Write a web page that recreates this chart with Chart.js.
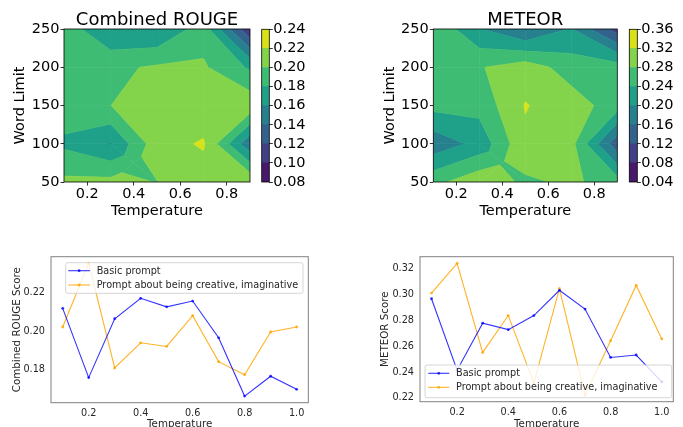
<!DOCTYPE html>
<html>
<head>
<meta charset="utf-8">
<script src="https://cdn.jsdelivr.net/npm/chart.js@4.4.0/dist/chart.umd.min.js"></script>
<style>
html, body { margin: 0; padding: 0; background: #fff; }
#wrap { position: relative; width: 683px; height: 427px; overflow: hidden; }
canvas { position: absolute; }
</style>
</head>
<body>
<div id="wrap">
  <canvas id="rougeMap" style="left:0px;top:0px" width="262" height="225"></canvas>
  <canvas id="rougeBar" style="left:255px;top:0px" width="60" height="225"></canvas>
  <canvas id="meteorMap" style="left:370px;top:0px" width="260" height="225"></canvas>
  <canvas id="meteorBar" style="left:625px;top:0px" width="58" height="225"></canvas>
  <canvas id="rougeLine" style="left:0px;top:240px" width="320" height="187"></canvas>
  <canvas id="meteorLine" style="left:340px;top:240px" width="343" height="187"></canvas>
</div>
<script>
Chart.defaults.font.family = "'DejaVu Sans', sans-serif";
Chart.defaults.animation = false;

// --- contour grids (rows = word limit, columns = temperature) ---
const temps = [0.1, 0.3, 0.5, 0.7, 0.9];
const wordLimits = [50, 100, 150, 200, 250];
const rougeGrid = [
  [0.2045, 0.2057, 0.1995, 0.2100, 0.2180],
  [0.1758, 0.1590, 0.2120, 0.2222, 0.1440],
  [0.1926, 0.1998, 0.2130, 0.2070, 0.2140],
  [0.1920, 0.1958, 0.2026, 0.2027, 0.1770],
  [0.1918, 0.1607, 0.1590, 0.1910, 0.1020]
];
const meteorGrid = [
  [0.2680, 0.3087, 0.2718, 0.2882, 0.2580],
  [0.1730, 0.2130, 0.3130, 0.2930, 0.1320],
  [0.2525, 0.2540, 0.3220, 0.3000, 0.2590],
  [0.2600, 0.2770, 0.3020, 0.2610, 0.2600],
  [0.2750, 0.2030, 0.1550, 0.2030, 0.1000]
];
const rougeLevels = [0.08, 0.10, 0.12, 0.14, 0.16, 0.18, 0.20, 0.22, 0.24];
const meteorLevels = [0.04, 0.08, 0.12, 0.16, 0.20, 0.24, 0.28, 0.32, 0.36];
const bandColors = ['#48186a', '#424086', '#33628d', '#27808e', '#1fa088', '#3fbc73', '#84d44b', '#d8e219'];
const mapTempTicks = [0.2, 0.4, 0.6, 0.8];
const wordTicks = [50, 100, 150, 200, 250];

// --- line charts ---
const lineTemps = [0.1, 0.2, 0.3, 0.4, 0.5, 0.6, 0.7, 0.8, 0.9, 1.0];
const rougeBasic = [0.2118, 0.1758, 0.2064, 0.2170, 0.2126, 0.2156, 0.1965, 0.1662, 0.1765, 0.1697];
const rougeCreative = [0.2021, 0.2352, 0.1808, 0.1939, 0.1920, 0.2080, 0.1841, 0.1773, 0.1995, 0.2021];
const meteorBasic = [0.2967, 0.2415, 0.2778, 0.2728, 0.2837, 0.3032, 0.2887, 0.2513, 0.2532, 0.2324];
const meteorCreative = [0.3011, 0.3241, 0.2552, 0.2837, 0.2315, 0.3045, 0.2222, 0.2643, 0.3070, 0.2656];
const lineTempTicks = [0.2, 0.4, 0.6, 0.8, 1.0];
const rougeScoreTicks = [0.18, 0.20, 0.22];
const meteorScoreTicks = [0.22, 0.24, 0.26, 0.28, 0.30, 0.32];
const seriesNames = ['Basic prompt', 'Prompt about being creative, imaginative'];
const seriesColors = ['rgba(0,0,255,0.8)', 'rgba(255,165,0,0.85)'];

// helpers for fixed axis sizes / explicit ticks
function fixWidth(w) { return s => { s.width = w; s.paddingTop = 0; s.paddingBottom = 0; }; }
function fixHeight(h) { return s => { s.height = h; s.paddingLeft = 0; s.paddingRight = 0; }; }
function setTicks(vals) { return s => { s.ticks = vals.map(v => ({ value: v })); }; }

// clip polygon (points [x, y, value]) to value >= L or value <= L
function clipPoly(poly, L, above) {
  const out = [];
  const inside = p => above ? p[2] >= L : p[2] <= L;
  for (let k = 0; k < poly.length; k++) {
    const a = poly[k], b = poly[(k + 1) % poly.length];
    const ia = inside(a), ib = inside(b);
    if (ia) out.push(a);
    if (ia !== ib) {
      const t = (L - a[2]) / (b[2] - a[2]);
      out.push([a[0] + t * (b[0] - a[0]), a[1] + t * (b[1] - a[1]), L]);
    }
  }
  return out;
}

const contourPlugin = {
  id: 'contour',
  beforeDatasetsDraw(chart, args, o) {
    const { ctx, chartArea: ca, scales: { x, y } } = chart;
    ctx.save();
    ctx.beginPath();
    ctx.rect(ca.left, ca.top, ca.right - ca.left, ca.bottom - ca.top);
    ctx.clip();
    ctx.lineJoin = 'round';
    for (let j = 0; j < o.ys.length - 1; j++) {
      for (let i = 0; i < o.xs.length - 1; i++) {
        const c = [
          [o.xs[i], o.ys[j], o.z[j][i]],
          [o.xs[i + 1], o.ys[j], o.z[j][i + 1]],
          [o.xs[i + 1], o.ys[j + 1], o.z[j + 1][i + 1]],
          [o.xs[i], o.ys[j + 1], o.z[j + 1][i]]
        ];
        const saddle = o.levels.some(L => {
          const s = c.map(p => p[2] >= L);
          return s[0] === s[2] && s[1] === s[3] && s[0] !== s[1];
        });
        let polys = [c];
        if (saddle) {
          const mid = [(c[0][0] + c[1][0]) / 2, (c[0][1] + c[3][1]) / 2,
            (c[0][2] + c[1][2] + c[2][2] + c[3][2]) / 4];
          polys = [0, 1, 2, 3].map(k => [c[k], c[(k + 1) % 4], mid]);
        }
        for (let b = 0; b < o.levels.length - 1; b++) {
          for (const poly of polys) {
            let p = clipPoly(poly, o.levels[b], true);
            if (p.length < 3) continue;
            p = clipPoly(p, o.levels[b + 1], false);
            if (p.length < 3) continue;
            ctx.beginPath();
            p.forEach((q, k) => {
              const px = x.getPixelForValue(q[0]), py = y.getPixelForValue(q[1]);
              if (k === 0) ctx.moveTo(px, py); else ctx.lineTo(px, py);
            });
            ctx.closePath();
            ctx.fillStyle = o.colors[b];
            ctx.strokeStyle = o.colors[b];
            ctx.lineWidth = 0.6;
            ctx.fill();
            ctx.stroke();
          }
        }
      }
    }
    ctx.restore();
  }
};

const framePlugin = {
  id: 'frame',
  afterDatasetsDraw(chart, args, o) {
    const { ctx, chartArea: ca } = chart;
    ctx.save();
    ctx.strokeStyle = o.color;
    ctx.lineWidth = o.width;
    ctx.strokeRect(ca.left, ca.top, ca.right - ca.left, ca.bottom - ca.top);
    ctx.restore();
  }
};

const headingPlugin = {
  id: 'heading',
  afterDraw(chart, args, o) {
    const { ctx, chartArea: ca } = chart;
    ctx.save();
    ctx.font = o.size + "px 'DejaVu Sans', sans-serif";
    ctx.fillStyle = '#000';
    ctx.textAlign = 'center';
    ctx.textBaseline = 'middle';
    ctx.fillText(o.text, (ca.left + ca.right) / 2, o.y);
    ctx.restore();
  }
};

const boxLegend = {
  id: 'boxLegend',
  afterDatasetsDraw(chart, args, o) {
    const { ctx, chartArea: ca } = chart;
    const x0 = ca.left + o.left, y0 = ca.top + o.top;
    ctx.save();
    ctx.fillStyle = 'rgba(255,255,255,0.8)';
    ctx.strokeStyle = '#cccccc';
    ctx.lineWidth = 0.8;
    ctx.beginPath();
    ctx.roundRect(x0, y0, o.width, o.height, 2);
    ctx.fill();
    ctx.stroke();
    ctx.font = "9.7px 'DejaVu Sans', sans-serif";
    ctx.textBaseline = 'middle';
    chart.data.datasets.forEach((ds, k) => {
      const ry = y0 + o.rows[k];
      ctx.strokeStyle = ds.borderColor;
      ctx.lineWidth = ds.borderWidth;
      ctx.beginPath();
      ctx.moveTo(x0 + o.sample[0], ry);
      ctx.lineTo(x0 + o.sample[1], ry);
      ctx.stroke();
      ctx.fillStyle = ds.borderColor;
      ctx.beginPath();
      ctx.arc(x0 + (o.sample[0] + o.sample[1]) / 2, ry, ds.pointRadius, 0, Math.PI * 2);
      ctx.fill();
      ctx.fillStyle = '#262626';
      ctx.fillText(ds.label, x0 + o.text, ry + 0.5);
    });
    ctx.restore();
  }
};

function contourChart(id, grid, levels, title, yWidth, padRight) {
  const pts = [];
  wordLimits.forEach(w => temps.forEach(t => pts.push({ x: t, y: w })));
  const tickGrid = { display: true, drawOnChartArea: false, drawTicks: true, tickLength: 3.5, color: '#000', lineWidth: 0.8 };
  return new Chart(document.getElementById(id), {
    type: 'scatter',
    data: { datasets: [{ data: pts, pointRadius: 0, pointHoverRadius: 0 }] },
    options: {
      responsive: false, animation: false, events: [],
      layout: { padding: { left: 0, top: 29, right: padRight, bottom: 0 } },
      plugins: {
        legend: { display: false }, tooltip: { enabled: false },
        contour: { xs: temps, ys: wordLimits, z: grid, levels: levels, colors: bandColors },
        frame: { color: '#000', width: 0.8 },
        heading: { text: title, y: 20.5, size: 18 }
      },
      scales: {
        x: {
          type: 'linear', min: temps[0], max: temps[temps.length - 1],
          afterBuildTicks: setTicks(mapTempTicks), afterFit: fixHeight(43),
          grid: tickGrid, border: { display: false },
          ticks: { color: '#000', font: { size: 14.5 }, padding: 0.5, maxRotation: 0, autoSkip: false, callback: v => v.toFixed(1) },
          title: { display: true, text: 'Temperature', color: '#000', font: { size: 14.5, lineHeight: 1.2 }, padding: { top: 0, bottom: 5.5 } }
        },
        y: {
          type: 'linear', min: wordLimits[0], max: wordLimits[wordLimits.length - 1],
          afterBuildTicks: setTicks(wordTicks), afterFit: fixWidth(yWidth),
          grid: tickGrid, border: { display: false },
          ticks: { color: '#000', font: { size: 14.5 }, padding: 1, autoSkip: false, callback: v => String(v) },
          title: { display: true, text: 'Word Limit', color: '#000', font: { size: 14.5, lineHeight: 1.2 }, padding: { top: 12, bottom: 0 } }
        }
      }
    },
    plugins: [contourPlugin, framePlugin, headingPlugin]
  });
}

function colorbarChart(id, levels, padLeft) {
  const bands = bandColors.map((c, k) => ({
    data: [[levels[k], levels[k + 1]]], backgroundColor: c, borderWidth: 0,
    barPercentage: 1, categoryPercentage: 1
  }));
  return new Chart(document.getElementById(id), {
    type: 'bar',
    data: { labels: [''], datasets: bands },
    options: {
      responsive: false, animation: false, events: [],
      layout: { padding: { left: padLeft, top: 29.3, right: 0, bottom: 43 } },
      plugins: { legend: { display: false }, tooltip: { enabled: false }, frame: { color: '#000', width: 0.8 } },
      scales: {
        x: { display: false, stacked: true },
        y: {
          position: 'right', min: levels[0], max: levels[levels.length - 1],
          afterBuildTicks: setTicks(levels), afterFit: fixWidth(45.7),
          grid: { display: true, drawOnChartArea: false, drawTicks: true, tickLength: 3.5, color: '#000', lineWidth: 0.8 },
          border: { display: false },
          ticks: { color: '#000', font: { size: 14.5 }, padding: 0.5, autoSkip: false, callback: v => v.toFixed(2) }
        }
      }
    },
    plugins: [framePlugin]
  });
}

function lineChart(id, basic, creative, scoreTicks, yLabel, yWidth, yTitlePad, padRight, xHeight, legendBox) {
  const all = basic.concat(creative);
  const lo = Math.min(...all), hi = Math.max(...all), m = (hi - lo) * 0.05;
  const t0 = lineTemps[0], t1 = lineTemps[lineTemps.length - 1], tm = (t1 - t0) * 0.05;
  const mk = (vals, k) => ({
    label: seriesNames[k], data: lineTemps.map((t, i) => ({ x: t, y: vals[i] })),
    borderColor: seriesColors[k], backgroundColor: seriesColors[k],
    borderWidth: 1.1, pointRadius: 1.4, pointBorderWidth: 0, tension: 0, fill: false
  });
  const tickFont = { size: 9.7 };
  return new Chart(document.getElementById(id), {
    type: 'line',
    data: { datasets: [mk(basic, 0), mk(creative, 1)] },
    options: {
      responsive: false, animation: false, events: [],
      layout: { padding: { left: 0, top: 16.7, right: padRight, bottom: 0 } },
      plugins: {
        legend: { display: false }, tooltip: { enabled: false },
        frame: { color: '#808080', width: 1 },
        boxLegend: legendBox
      },
      scales: {
        x: {
          type: 'linear', min: t0 - tm, max: t1 + tm,
          afterBuildTicks: setTicks(lineTempTicks), afterFit: fixHeight(xHeight),
          grid: { display: false, drawTicks: false }, border: { display: false },
          ticks: { color: '#262626', font: tickFont, padding: 5, maxRotation: 0, autoSkip: false, callback: v => v.toFixed(1) },
          title: { display: true, text: 'Temperature', color: '#262626', font: { size: 10.3, lineHeight: 0.5 }, padding: { top: 0, bottom: 0 } }
        },
        y: {
          type: 'linear', min: lo - m, max: hi + m,
          afterBuildTicks: setTicks(scoreTicks), afterFit: fixWidth(yWidth),
          grid: { display: false, drawTicks: false }, border: { display: false },
          ticks: { color: '#262626', font: tickFont, padding: 6, autoSkip: false, callback: v => v.toFixed(2) },
          title: { display: true, text: yLabel, color: '#262626', font: { size: 10.3, lineHeight: 1.2 }, padding: { top: yTitlePad, bottom: 0 } }
        }
      }
    },
    plugins: [framePlugin, boxLegend]
  });
}

contourChart('rougeMap', rougeGrid, rougeLevels, 'Combined ROUGE', 64, 12);
colorbarChart('rougeBar', rougeLevels, 6.7);
contourChart('meteorMap', meteorGrid, meteorLevels, 'METEOR', 63.3, 12.7);
colorbarChart('meteorBar', meteorLevels, 4.3);
lineChart('rougeLine', rougeBasic, rougeCreative, rougeScoreTicks, 'Combined ROUGE Score', 51, 11, 11.7, 24.3,
  { left: 14.7, top: 6, width: 237.3, height: 30.6, rows: [8, 22.3], sample: [2.6, 24.3], text: 31 });
lineChart('meteorLine', meteorBasic, meteorCreative, meteorScoreTicks, 'METEOR Score', 80, 39.6, 9.7, 25.3,
  { left: 5, top: 108.3, width: 246.7, height: 32.7, rows: [8.3, 22.3], sample: [3.3, 24.3], text: 31 });
</script>
</body>
</html>
